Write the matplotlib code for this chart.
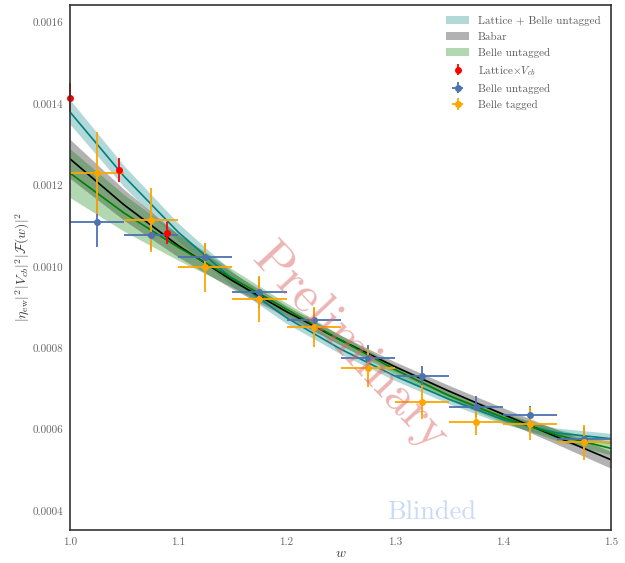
import numpy as np
import matplotlib
matplotlib.use("Agg")
import matplotlib.pyplot as plt

plt.rcParams['font.family'] = 'serif'
plt.rcParams['font.serif'] = ['cmr10', 'DejaVu Serif']
plt.rcParams['mathtext.fontset'] = 'cm'
plt.rcParams['axes.formatter.use_mathtext'] = True
plt.rcParams['axes.unicode_minus'] = False

# fit curves (central value and half width of band), read at w = 1.00 ... 1.50
w_grid = [1.00, 1.05, 1.10, 1.15, 1.20, 1.25, 1.30, 1.35, 1.40, 1.45, 1.50]
lat_fit = [1.380e-3, 1.222e-3, 1.085e-3, 0.970e-3, 0.875e-3, 0.798e-3, 0.732e-3, 0.675e-3, 0.625e-3, 0.592e-3, 0.578e-3]
lat_err = [30e-6, 26e-6, 22e-6, 18e-6, 14e-6, 12e-6, 11e-6, 11e-6, 11e-6, 12e-6, 13e-6]
babar_fit = [1.265e-3, 1.152e-3, 1.052e-3, 0.966e-3, 0.890e-3, 0.820e-3, 0.755e-3, 0.695e-3, 0.638e-3, 0.582e-3, 0.526e-3]
babar_err = [48e-6, 38e-6, 28e-6, 20e-6, 14e-6, 12e-6, 12e-6, 14e-6, 16e-6, 18e-6, 21e-6]
untag_fit = [1.230e-3, 1.132e-3, 1.048e-3, 0.972e-3, 0.896e-3, 0.820e-3, 0.748e-3, 0.684e-3, 0.630e-3, 0.587e-3, 0.554e-3]
untag_err = [60e-6, 45e-6, 32e-6, 22e-6, 15e-6, 12e-6, 11e-6, 11e-6, 12e-6, 14e-6, 16e-6]

# lattice points
lat_w = [1.0, 1.045, 1.09]
lat_y = [1.415e-3, 1.238e-3, 1.0825e-3]
lat_yerr = [36e-6, 30e-6, 27e-6]

# Belle data, bins of width 0.05
bin_w = [1.025, 1.075, 1.125, 1.175, 1.225, 1.275, 1.325, 1.375, 1.425, 1.475]
untag_y = [1.111e-3, 1.077e-3, 1.023e-3, 0.938e-3, 0.869e-3, 0.777e-3, 0.732e-3, 0.657e-3, 0.636e-3, 0.578e-3]
untag_yerr = [62e-6, 35e-6, 35e-6, 38e-6, 31e-6, 30e-6, 25e-6, 26e-6, 22e-6, 29e-6]
tag_y = [1.230e-3, 1.115e-3, 0.999e-3, 0.921e-3, 0.853e-3, 0.751e-3, 0.669e-3, 0.620e-3, 0.615e-3, 0.569e-3]
tag_yerr = [100e-6, 79e-6, 60e-6, 56e-6, 49e-6, 46e-6, 42e-6, 34e-6, 40e-6, 43e-6]

w = np.array(w_grid)
fig = plt.figure(figsize=(6.25, 5.63), dpi=100)
ax = fig.add_axes([0.112, 0.058, 0.866, 0.934])

b1 = ax.fill_between(w, np.array(lat_fit) - lat_err, np.array(lat_fit) + lat_err,
                     color='teal', alpha=0.3, lw=0, label='Lattice + Belle untagged')
b2 = ax.fill_between(w, np.array(babar_fit) - babar_err, np.array(babar_fit) + babar_err,
                     color='gray', alpha=0.6, lw=0, label='Babar')
b3 = ax.fill_between(w, np.array(untag_fit) - untag_err, np.array(untag_fit) + untag_err,
                     color='green', alpha=0.3, lw=0, label='Belle untagged')
ax.plot(w, lat_fit, color='teal', lw=1.2)
ax.plot(w, babar_fit, color='k', lw=1.2)
ax.plot(w, untag_fit, color='green', lw=1.2)

e1 = ax.errorbar(lat_w, lat_y, yerr=lat_yerr, fmt='o', color='red', ms=4, elinewidth=1.3,
                 label=r'Lattice$\times V_{cb}$')
e2 = ax.errorbar(bin_w, untag_y, yerr=untag_yerr, xerr=0.025, fmt='o', color='#4c72b0', ms=4,
                 elinewidth=1.3, label='Belle untagged')
e3 = ax.errorbar(bin_w, tag_y, yerr=tag_yerr, xerr=0.025, fmt='o', color='orange', ms=4,
                 elinewidth=1.3, label='Belle tagged')
for art in e1.lines[0:1] + tuple(e1.lines[2]):
    art.set_clip_on(False)

ax.text(1.258, 0.000802, 'Preliminary', rotation=-47, fontsize=37, color='#dc6a6a', alpha=0.5,
        ha='center', va='center', rotation_mode='anchor')
ax.text(1.334, 0.000397, 'Blinded', fontsize=19, color='cornflowerblue', alpha=0.35,
        ha='center', va='center')

ax.set_xlim(1.0, 1.5)
ax.set_ylim(0.000353, 0.001644)
ax.set_yticks([0.0004, 0.0006, 0.0008, 0.0010, 0.0012, 0.0014, 0.0016])
ax.set_yticklabels(['0.0004', '0.0006', '0.0008', '0.0010', '0.0012', '0.0014', '0.0016'])
ax.set_xticks([1.0, 1.1, 1.2, 1.3, 1.4, 1.5])
ax.set_xticklabels(['1.0', '1.1', '1.2', '1.3', '1.4', '1.5'])
ax.tick_params(length=0, labelsize=8, labelcolor='0.4', pad=5)
for s in ax.spines.values():
    s.set_color('0.2')
    s.set_linewidth(1.2)
ax.set_xlabel(r'$w$', fontsize=10, color='0.25', labelpad=1)
ax.set_ylabel(r'$|\eta_{\rm ew}|^2|V_{cb}|^2|\mathcal{F}(w)|^2$', fontsize=10, color='0.25', labelpad=0)

leg = ax.legend(handles=[b1, b2, b3, e1, e2, e3], loc='upper right', frameon=False, fontsize=8,
                labelspacing=0.55, borderaxespad=0.6)
for t in leg.get_texts():
    t.set_color('0.35')

fig.savefig('out.png', dpi=100)
